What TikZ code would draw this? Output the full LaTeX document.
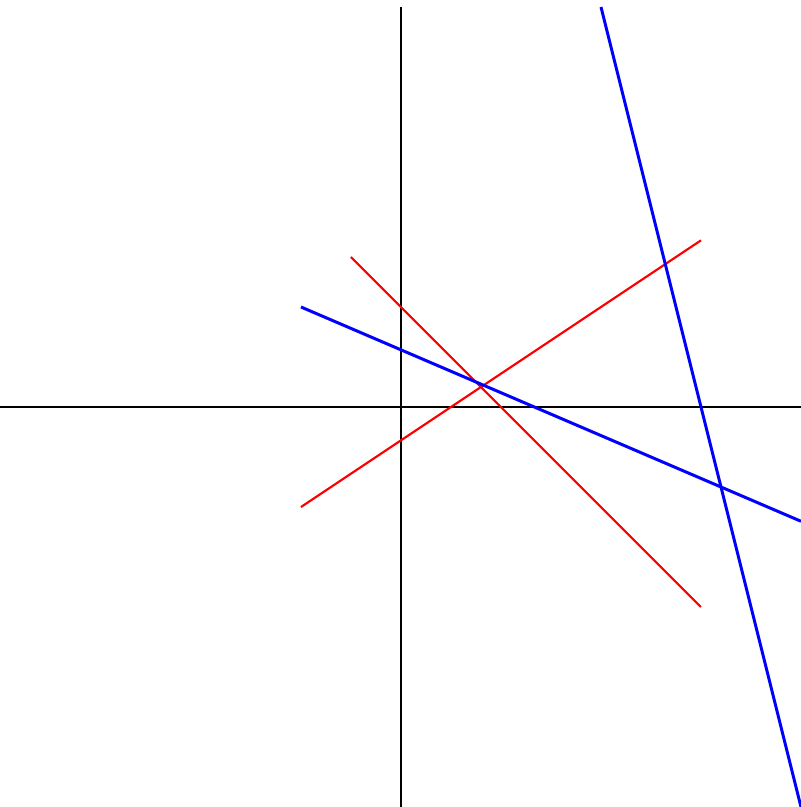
\documentclass[tikz,border=0pt]{standalone}
\usepackage{tikz}
\tikzset{
  %% axes
  axisline/.style={draw=black,line width=0.3pt},
  %% lines
  redline/.style={draw=red,line width=0.6pt},
  blueline/.style={draw=blue,line width=0.85pt},
}

\begin{document}
\begin{tikzpicture}[x=1cm,y=1cm]
    \useasboundingbox (-4.01,-4) rectangle (4,4.07);

    %% axes
    \draw[axisline] (-4.01,0) -- (4,0);
    \draw[axisline] (0,-4) -- (0,4);

    %% red lines
    \draw[redline] (-1,-1) -- (3,5/3);
    \draw[redline] (-0.5,1.5) -- (3,-2);

    %% blue lines
    \draw[blueline] (-1,1) -- (4,-8/7);
    \draw[blueline] (2,4) -- (4,-4);
\end{tikzpicture}
\end{document}
